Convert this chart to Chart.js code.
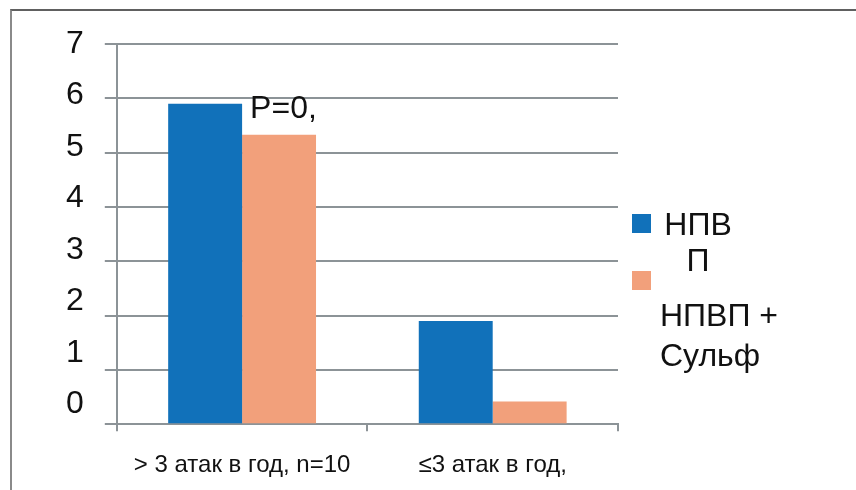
<!DOCTYPE html>
<html>
<head>
<meta charset="utf-8">
<script src="https://cdn.jsdelivr.net/npm/chart.js@4"></script>
<style>
    body { margin: 0; background: #fff; font-family: "Liberation Sans", Arial, sans-serif; }
    #wrap { position: relative; width: 856px; height: 490px; overflow: hidden; }
    #frame { position: absolute; left: 10px; top: 9px; width: 900px; height: 540px;
             border-top: 2px solid #606060; border-left: 2px solid #8a8a8a; }
    canvas { position: absolute; left: 0; top: 0; }
    .legend-item { position: absolute; color: #111; font-size: 32px; }
    .swatch { position: absolute; width: 19px; height: 19px; }
</style>
</head>
<body>
<div id="wrap">
    <div id="frame"></div>
    <canvas id="chart" width="856" height="490"></canvas>
    <div id="legend"></div>
</div>
<script>
// categories and series
const categories = ["> 3 атак в год, n=10", "≤3 атак в год,"];
const seriesNames = ["НПВП", "НПВП + Сульф"];
const nsaidValues = [5.9, 1.9];
const nsaidSulfValues = [5.33, 0.42];
const seriesColors = ["#1171ba", "#f2a07b"];
// legend text is wrapped the same way as on the slide
const legendLines = [["НПВ", "П"], ["НПВП +", "Сульф"]];
const noteText = "P=0,";

const gridColor = "#8c9397";
const fontFamily = '"Liberation Sans", Arial, sans-serif';

// "P=0," note sits above the second bar of the first group
const noteLabel = {
    id: "noteLabel",
    afterDatasetsDraw(chart) {
        let bar = chart.getDatasetMeta(1).data[0];
        let ctx = chart.ctx;
        ctx.save();
        ctx.font = "32px " + fontFamily;
        ctx.fillStyle = "#111";
        ctx.textBaseline = "alphabetic";
        ctx.fillText(noteText, bar.x - bar.width / 2 + 8, bar.y - 17);
        ctx.restore();
    }
};

let chart = new Chart(document.getElementById("chart"), {
    type: "bar",
    data: {
        labels: categories,
        datasets: [
            { label: seriesNames[0], data: nsaidValues, backgroundColor: seriesColors[0] },
            { label: seriesNames[1], data: nsaidSulfValues, backgroundColor: seriesColors[1] }
        ]
    },
    options: {
        responsive: false,
        animation: false,
        barPercentage: 1,
        categoryPercentage: 0.59,
        layout: { padding: { left: 45, top: 44, right: 238, bottom: -10 } },
        plugins: { legend: { display: false }, tooltip: { enabled: false } },
        scales: {
            x: {
                grid: { drawOnChartArea: false, tickLength: 7, color: gridColor, lineWidth: 2 },
                border: { color: gridColor, width: 2 },
                ticks: { color: "#111", font: { family: fontFamily, size: 24 }, padding: 20, maxRotation: 0, autoSkip: false }
            },
            y: {
                position: "left",
                weight: 0,
                min: 0,
                max: 7,
                ticks: { display: false, stepSize: 1 },
                grid: { color: gridColor, lineWidth: 2, tickLength: 12 },
                border: { color: gridColor, width: 2 }
            },
            // numbers of the value axis, spaced a little tighter than the grid
            yLabels: {
                position: "left",
                weight: 1,
                min: -0.39,
                max: 7,
                grid: { display: false, drawTicks: false },
                border: { display: false },
                ticks: { stepSize: 1, includeBounds: false, color: "#111", font: { family: fontFamily, size: 32 }, padding: 21 }
            }
        }
    },
    plugins: [noteLabel]
});

// legend built from the datasets
const legendSpots = [
    { swatchTop: 214, textLeft: 662, textTop: 206, width: 72, lineHeight: 36, align: "center" },
    { swatchTop: 271, textLeft: 660, textTop: 295, width: 140, lineHeight: 40, align: "left" }
];
let legend = document.getElementById("legend");
chart.data.datasets.forEach((ds, i) => {
    let spot = legendSpots[i];
    let sw = document.createElement("div");
    sw.className = "swatch";
    sw.style.left = "632px";
    sw.style.top = spot.swatchTop + "px";
    sw.style.background = ds.backgroundColor;
    legend.appendChild(sw);

    let txt = document.createElement("div");
    txt.className = "legend-item";
    txt.style.left = spot.textLeft + "px";
    txt.style.top = spot.textTop + "px";
    txt.style.width = spot.width + "px";
    txt.style.lineHeight = spot.lineHeight + "px";
    txt.style.textAlign = spot.align;
    txt.innerHTML = legendLines[i].join("<br>");
    legend.appendChild(txt);
});
</script>
</body>
</html>
